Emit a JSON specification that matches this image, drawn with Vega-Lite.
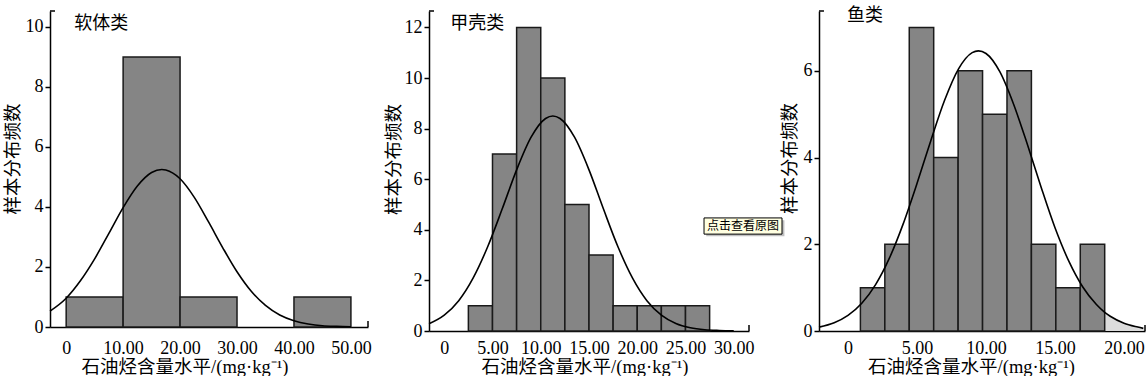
{
  "$schema": "https://vega.github.io/schema/vega-lite/v6.json",
  "padding": {"left": 3, "top": 6, "right": 2, "bottom": 0},
  "background": "white",
  "spacing": 0,
  "bounds": "flush",
  "config": {
    "view": {"stroke": null},
    "axis": {
      "domainColor": "black", "domainWidth": 1.5,
      "tickColor": "black", "tickWidth": 1.5,
      "labelColor": "black", "labelFont": "Liberation Serif", "labelFontSize": 18,
      "titleFont": "Liberation Serif, Noto Sans CJK SC", "titleFontSize": 18.5,
      "titleFontWeight": "normal", "titleColor": "black", "grid": false
    }
  },
  "datasets": {
    "one": [{"k": 1}],
    "bars1": [
      {"lo": 0, "hi": 10, "count": 1},
      {"lo": 10, "hi": 20, "count": 9},
      {"lo": 20, "hi": 30, "count": 1},
      {"lo": 40, "hi": 50, "count": 1}
    ],
    "curve1": [
      {"x": -2.84, "y": 0.53}, {"x": 0, "y": 0.96}, {"x": 2.5, "y": 1.54}, {"x": 5, "y": 2.27},
      {"x": 7.5, "y": 3.12}, {"x": 10, "y": 3.98}, {"x": 12.5, "y": 4.7}, {"x": 15, "y": 5.15},
      {"x": 16.8, "y": 5.25}, {"x": 17.5, "y": 5.23}, {"x": 20, "y": 4.94}, {"x": 22.5, "y": 4.32},
      {"x": 25, "y": 3.5}, {"x": 27.5, "y": 2.64}, {"x": 30, "y": 1.84}, {"x": 32.5, "y": 1.19},
      {"x": 35, "y": 0.72}, {"x": 37.5, "y": 0.4}, {"x": 40, "y": 0.21}, {"x": 42.5, "y": 0.1},
      {"x": 45, "y": 0.04}, {"x": 47.5, "y": 0.02}, {"x": 50, "y": 0.01}
    ],
    "bars2": [
      {"lo": 2.5, "hi": 5, "count": 1},
      {"lo": 5, "hi": 7.5, "count": 7},
      {"lo": 7.5, "hi": 10, "count": 12},
      {"lo": 10, "hi": 12.5, "count": 10},
      {"lo": 12.5, "hi": 15, "count": 5},
      {"lo": 15, "hi": 17.5, "count": 3},
      {"lo": 17.5, "hi": 20, "count": 1},
      {"lo": 20, "hi": 22.5, "count": 1},
      {"lo": 22.5, "hi": 25, "count": 1},
      {"lo": 25, "hi": 27.5, "count": 1}
    ],
    "curve2": [
      {"x": -1.58, "y": 0.29}, {"x": 0, "y": 0.63}, {"x": 1.5, "y": 1.2}, {"x": 3, "y": 2.1},
      {"x": 4.5, "y": 3.33}, {"x": 6, "y": 4.82}, {"x": 7.5, "y": 6.37}, {"x": 9, "y": 7.66},
      {"x": 10.5, "y": 8.4}, {"x": 11.25, "y": 8.5}, {"x": 12, "y": 8.4}, {"x": 13.5, "y": 7.66},
      {"x": 15, "y": 6.37}, {"x": 16.5, "y": 4.82}, {"x": 18, "y": 3.33}, {"x": 19.5, "y": 2.1},
      {"x": 21, "y": 1.2}, {"x": 22.5, "y": 0.63}, {"x": 24, "y": 0.3}, {"x": 25.5, "y": 0.13},
      {"x": 27, "y": 0.05}, {"x": 28.5, "y": 0.02}, {"x": 30, "y": 0.006}
    ],
    "bars3": [
      {"lo": 0.9, "hi": 2.67, "count": 1},
      {"lo": 2.67, "hi": 4.44, "count": 2},
      {"lo": 4.44, "hi": 6.21, "count": 7},
      {"lo": 6.21, "hi": 7.98, "count": 4},
      {"lo": 7.98, "hi": 9.75, "count": 6},
      {"lo": 9.75, "hi": 11.52, "count": 5},
      {"lo": 11.52, "hi": 13.29, "count": 6},
      {"lo": 13.29, "hi": 15.06, "count": 2},
      {"lo": 15.06, "hi": 16.83, "count": 1},
      {"lo": 16.83, "hi": 18.6, "count": 2}
    ],
    "curve3": [
      {"x": -2.1, "y": 0.09}, {"x": -1, "y": 0.19}, {"x": 0, "y": 0.36}, {"x": 1, "y": 0.64},
      {"x": 2, "y": 1.07}, {"x": 3, "y": 1.68}, {"x": 4, "y": 2.47}, {"x": 5, "y": 3.4},
      {"x": 6, "y": 4.39}, {"x": 7, "y": 5.32}, {"x": 8, "y": 6.04}, {"x": 9, "y": 6.42},
      {"x": 9.45, "y": 6.46}, {"x": 10, "y": 6.4}, {"x": 11, "y": 5.98}, {"x": 12, "y": 5.23},
      {"x": 13, "y": 4.3}, {"x": 14, "y": 3.31}, {"x": 15, "y": 2.38}, {"x": 16, "y": 1.61},
      {"x": 17, "y": 1.02}, {"x": 18, "y": 0.61}, {"x": 18.6, "y": 0.43}, {"x": 19, "y": 0.34},
      {"x": 20, "y": 0.18}, {"x": 21, "y": 0.09}, {"x": 21.4, "y": 0.06}
    ]
  },
  "hconcat": [
    {
      "width": 318, "height": 316,
      "layer": [
        {
          "data": {"name": "bars1"},
          "mark": {"type": "rect", "fill": "#858585", "stroke": "#1a1a1a", "strokeWidth": 1.5},
          "encoding": {
            "x": {"field": "lo", "type": "quantitative", "title": "石油烃含量水平/(mg·kg⁻¹)",
                  "scale": {"domain": [-2.84, 53], "nice": false, "zero": false},
                  "axis": {"values": [0, 10, 20, 30, 40, 50], "labelExpr": "datum.value == 0 ? '0' : format(datum.value, '.2f')",
                           "ticks": false, "tickSize": 0, "labelPadding": 12, "titlePadding": 0, "titleX": 134.5,
                           "labelFlush": false, "labelOverlap": false}},
            "x2": {"field": "hi"},
            "y": {"field": "count", "type": "quantitative", "title": "样本分布频数",
                  "scale": {"domain": [0, 10.53], "nice": false},
                  "axis": {"values": [0, 2, 4, 6, 8, 10], "format": "d", "tickSize": 5, "labelPadding": 2, "titlePadding": 3, "titleY": 147.5}},
            "y2": {"datum": 0}
          }
        },
        {
          "data": {"name": "curve1"},
          "mark": {"type": "line", "color": "black", "strokeWidth": 1.6, "interpolate": "monotone"},
          "encoding": {
            "x": {"field": "x", "type": "quantitative", "title": "石油烃含量水平/(mg·kg⁻¹)"},
            "y": {"field": "y", "type": "quantitative", "title": "样本分布频数"}
          }
        },
        {
          "data": {"name": "one"},
          "mark": {"type": "rule", "color": "black", "strokeWidth": 1.5},
          "encoding": {"x": {"datum": -2.84}, "x2": {"datum": -1.96}, "y": {"datum": 10.53}}
        },
        {
          "data": {"name": "one"},
          "mark": {"type": "rule", "color": "black", "strokeWidth": 1.5},
          "encoding": {"x": {"datum": 53}, "y": {"datum": 0}, "y2": {"datum": 0.2}}
        },
        {
          "data": {"name": "one"},
          "mark": {"type": "text", "text": "软体类", "font": "Noto Sans CJK SC", "fontSize": 18, "align": "left", "baseline": "middle", "color": "black"},
          "encoding": {"x": {"datum": 1.4}, "y": {"datum": 10.1}}
        }
      ]
    },
    {"width": 61, "height": 320, "data": {"values": []}, "mark": "point"},
    {
      "width": 320, "height": 320,
      "layer": [
        {
          "data": {"name": "bars2"},
          "mark": {"type": "rect", "fill": "#858585", "stroke": "#1a1a1a", "strokeWidth": 1.5},
          "encoding": {
            "x": {"field": "lo", "type": "quantitative", "title": "石油烃含量水平/(mg·kg⁻¹)",
                  "scale": {"domain": [-1.58, 31.58], "nice": false, "zero": false},
                  "axis": {"values": [0, 5, 10, 15, 20, 25, 30], "labelExpr": "datum.value == 0 ? '0' : format(datum.value, '.2f')",
                           "ticks": false, "tickSize": 0, "labelPadding": 8, "titlePadding": 0, "titleX": 155.5,
                           "labelFlush": false, "labelOverlap": false}},
            "x2": {"field": "hi"},
            "y": {"field": "count", "type": "quantitative", "title": "样本分布频数",
                  "scale": {"domain": [0, 12.65], "nice": false},
                  "axis": {"values": [0, 2, 4, 6, 8, 10, 12], "format": "d", "tickSize": 5, "labelPadding": 2, "titlePadding": 1, "titleY": 148}},
            "y2": {"datum": 0}
          }
        },
        {
          "data": {"name": "curve2"},
          "mark": {"type": "line", "color": "black", "strokeWidth": 1.6, "interpolate": "monotone"},
          "encoding": {
            "x": {"field": "x", "type": "quantitative", "title": "石油烃含量水平/(mg·kg⁻¹)"},
            "y": {"field": "y", "type": "quantitative", "title": "样本分布频数"}
          }
        },
        {
          "data": {"name": "one"},
          "mark": {"type": "rule", "color": "black", "strokeWidth": 1.5},
          "encoding": {"x": {"datum": -1.58}, "x2": {"datum": -1.06}, "y": {"datum": 12.65}}
        },
        {
          "data": {"name": "one"},
          "mark": {"type": "rule", "color": "black", "strokeWidth": 1.5},
          "encoding": {"x": {"datum": 31.58}, "y": {"datum": 0}, "y2": {"datum": 0.24}}
        },
        {
          "data": {"name": "one"},
          "mark": {"type": "text", "text": "甲壳类", "font": "Noto Sans CJK SC", "fontSize": 18, "align": "left", "baseline": "middle", "color": "black"},
          "encoding": {"x": {"datum": 0.63}, "y": {"datum": 12.12}}
        },
        {
          "data": {"name": "one"},
          "mark": {"type": "rect", "fill": "#b0b0b0", "opacity": 0.8},
          "encoding": {"x": {"datum": 27.15}, "x2": {"datum": 35.25}, "y": {"datum": 3.75}, "y2": {"datum": 4.38}}
        },
        {
          "data": {"name": "one"},
          "mark": {"type": "rect", "fill": "#ffffe1", "stroke": "black", "strokeWidth": 1},
          "encoding": {"x": {"datum": 26.92}, "x2": {"datum": 35.0}, "y": {"datum": 3.83}, "y2": {"datum": 4.47}}
        },
        {
          "data": {"name": "one"},
          "mark": {"type": "text", "text": "点击查看原图", "font": "Noto Sans CJK SC", "fontSize": 12, "align": "center", "baseline": "middle", "color": "black"},
          "encoding": {"x": {"datum": 30.96}, "y": {"datum": 4.15}}
        }
      ]
    },
    {"width": 70, "height": 320, "data": {"values": []}, "mark": "point"},
    {
      "width": 326, "height": 320,
      "layer": [
        {
          "data": {"name": "curve3"},
          "transform": [{"filter": "datum.x >= 18.6"}],
          "mark": {"type": "area", "color": "#dcdcdc", "interpolate": "monotone"},
          "encoding": {
            "x": {"field": "x", "type": "quantitative", "title": "石油烃含量水平/(mg·kg⁻¹)",
                  "scale": {"domain": [-2.1, 21.52], "nice": false, "zero": false},
                  "axis": {"values": [0, 5, 10, 15, 20], "labelExpr": "datum.value == 0 ? '0' : format(datum.value, '.2f')",
                           "ticks": false, "tickSize": 0, "labelPadding": 8, "titlePadding": 0, "titleX": 152,
                           "labelFlush": false, "labelOverlap": false}},
            "y": {"field": "y", "type": "quantitative", "title": "样本分布频数",
                  "scale": {"domain": [0, 7.38], "nice": false},
                  "axis": {"values": [0, 2, 4, 6], "format": "d", "tickSize": 5, "labelPadding": 2, "titlePadding": 4, "titleY": 147}}
          }
        },
        {
          "data": {"name": "bars3"},
          "mark": {"type": "rect", "fill": "#858585", "stroke": "#1a1a1a", "strokeWidth": 1.5},
          "encoding": {
            "x": {"field": "lo", "type": "quantitative", "title": "石油烃含量水平/(mg·kg⁻¹)"},
            "x2": {"field": "hi"},
            "y": {"field": "count", "type": "quantitative", "title": "样本分布频数"},
            "y2": {"datum": 0}
          }
        },
        {
          "data": {"name": "curve3"},
          "mark": {"type": "line", "color": "black", "strokeWidth": 1.6, "interpolate": "monotone"},
          "encoding": {
            "x": {"field": "x", "type": "quantitative", "title": "石油烃含量水平/(mg·kg⁻¹)"},
            "y": {"field": "y", "type": "quantitative", "title": "样本分布频数"}
          }
        },
        {
          "data": {"name": "one"},
          "mark": {"type": "rule", "color": "black", "strokeWidth": 1.5},
          "encoding": {"x": {"datum": -2.1}, "x2": {"datum": -1.74}, "y": {"datum": 7.38}}
        },
        {
          "data": {"name": "one"},
          "mark": {"type": "rule", "color": "black", "strokeWidth": 1.5},
          "encoding": {"x": {"datum": 21.52}, "y": {"datum": 0}, "y2": {"datum": 0.14}}
        },
        {
          "data": {"name": "one"},
          "mark": {"type": "text", "text": "鱼类", "font": "Noto Sans CJK SC", "fontSize": 18, "align": "left", "baseline": "middle", "color": "black"},
          "encoding": {"x": {"datum": -0.07}, "y": {"datum": 7.27}}
        }
      ]
    }
  ]
}
